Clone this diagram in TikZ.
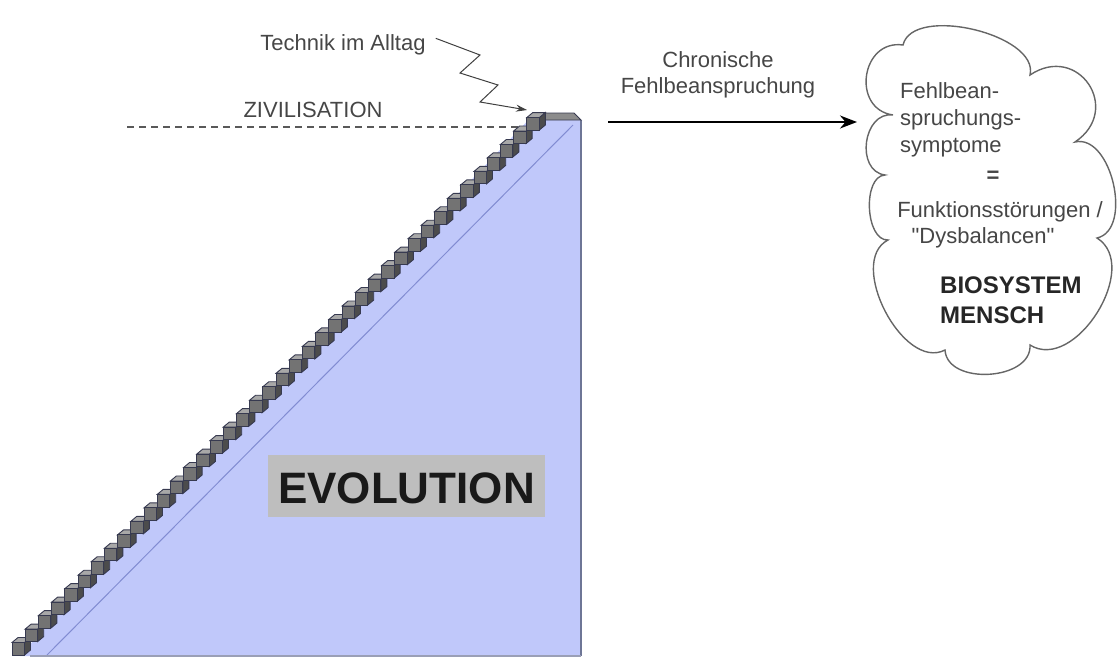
\documentclass[tikz,border=0pt]{standalone}
\usepackage{fontspec}
\setmainfont{Liberation Sans}
\newfontfamily\qfont{Liberation Sans}
\usetikzlibrary{calc,arrows.meta}
\definecolor{evoblue}{RGB}{192,200,250}
\definecolor{edgeblue}{RGB}{110,118,150}
\definecolor{diagblue}{RGB}{130,140,210}
\definecolor{txt}{RGB}{70,70,70}
\definecolor{evogray}{RGB}{190,190,190}
\definecolor{stepline}{RGB}{55,58,80}
\newcommand\puff[3]{.. controls ($(#1)!#3!90:(#2)$) and ($(#2)!#3!-90:(#1)$) .. (#2)}
\begin{document}
\begin{tikzpicture}[x=1pt,y=-1pt,
  lbl/.style={font=\fontsize{22}{26}\selectfont, text=txt, inner sep=0pt, anchor=base},
  boldlbl/.style={font=\fontsize{24}{28}\selectfont\bfseries, text=black!85, inner sep=0pt, anchor=base west},
  stepfront/.style={fill=black!55, draw=stepline, line width=0.9pt},
  steptop/.style={fill=black!34, draw=stepline, line width=0.9pt},
  stepside/.style={fill=black!70, draw=stepline, line width=0.9pt},
  cloudline/.style={draw=black!60, line width=1.4pt, fill=white}]
\useasboundingbox (0,0) rectangle (1117,657);
% blue body
\fill[evoblue] (20,655) -- (535,113) -- (574,113) -- (581,120) -- (581,656) -- (20,656) -- cycle;
\draw[diagblue, line width=1pt] (47,655) -- (573,125);
\draw[edgeblue, line width=2pt] (581,120) -- (581,656);
\draw[edgeblue!70, line width=1.5pt] (30,656) -- (581,656);
% landing
\filldraw[fill=black!45, draw=stepline, line width=0.9pt] (535,120) -- (540,113) -- (574,113) -- (581,120) -- cycle;
% dashed line
\draw[black!65, line width=1.5pt, dash pattern=on 7pt off 5pt] (127,127) -- (525,127);
% steps
\foreach \i in {0,...,39} {
  \pgfmathsetmacro{\sx}{12+13.2*\i}
  \pgfmathsetmacro{\sy}{655-13.46*\i}
  \filldraw[stepside] (\sx+12.5,\sy) -- (\sx+18.5,\sy-5) -- (\sx+18.5,\sy-17.5) -- (\sx+12.5,\sy-12.5) -- cycle;
  \filldraw[steptop] (\sx,\sy-12.5) -- (\sx+6,\sy-17.5) -- (\sx+18.5,\sy-17.5) -- (\sx+12.5,\sy-12.5) -- cycle;
  \filldraw[stepfront] (\sx,\sy) rectangle (\sx+12.5,\sy-12.5);
}
% EVOLUTION
\node[fill=evogray, minimum width=277, minimum height=62, inner sep=0pt] (evobox) at (406.5,486) {};
\node[font=\fontsize{44}{50}\selectfont\bfseries, text=black!90, inner sep=0pt, anchor=base] (evo) at (406.5,503) {EVOLUTION};
% labels
\node[lbl] (ziv) at (313,117) {ZIVILISATION};
\node[lbl] (tech) at (343,50) {Technik im Alltag};
\coordinate (stairtop) at (527,110);
\draw[black!75, line width=1pt, -{Stealth[length=11pt,width=7pt]}]
  (tech.east) ++(10,-6) -- (480,55) -- (460,73) -- (498,85) -- (480,102) -- (stairtop);
\node[lbl] (chron) at (718,67) {Chronische};
\node[lbl] (fehl) at (718,93) {Fehlbeanspruchung};
% cloud
\coordinate (p1) at (903,45);
\coordinate (p2) at (1030,75);
\coordinate (p3) at (1075,142);
\coordinate (p4) at (1097,238);
\coordinate (p5) at (1030,345);
\coordinate (p6) at (945,350);
\coordinate (p7) at (888,240);
\coordinate (p8) at (885,175);
\coordinate (p9) at (893,115);
\draw[cloudline] (p1) \puff{p1}{p2}{0.32} \puff{p2}{p3}{0.72} \puff{p3}{p4}{0.38}
  \puff{p4}{p5}{0.42} \puff{p5}{p6}{0.42} \puff{p6}{p7}{0.38} \puff{p7}{p8}{0.35}
  \puff{p8}{p9}{0.5} \puff{p9}{p1}{0.6} -- cycle;
\coordinate (arrowstart) at (608,122);
\coordinate (cloudin) at (857,122);
\draw[black, line width=2pt, -{Stealth[length=17pt,width=13pt]}] (arrowstart) -- (cloudin);
\node[lbl, anchor=base west] (c1) at (900,98) {Fehlbean-};
\node[lbl, anchor=base west] (c2) at (900,125) {spruchungs-};
\node[lbl, anchor=base west] (c3) at (900,152) {symptome};
\node[font=\fontsize{22}{26}\selectfont\bfseries, text=txt, inner sep=0pt] (eq) at (993,177) {=};
\node[lbl] (c4) at (1000,217) {Funktionsstörungen /};
\node[lbl, font=\fontsize{22}{26}\selectfont\qfont] (c5) at (983,243) {"Dysbalancen"};
\node[boldlbl] (b1) at (940,293) {BIOSYSTEM};
\node[boldlbl] (b2) at (940,323) {MENSCH};
\end{tikzpicture}
\end{document}
